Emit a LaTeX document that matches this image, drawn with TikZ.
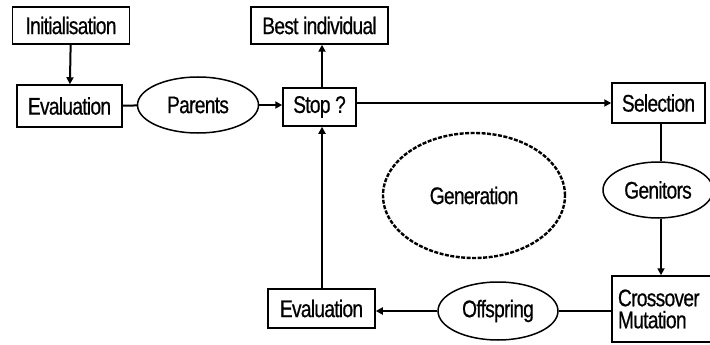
\documentclass[tikz,border=0pt]{standalone}
\usepackage{fontspec}
\setmainfont[LetterSpace=-3,FakeStretch=0.8,FakeBold=0.6]{Liberation Sans}
\usetikzlibrary{shapes.geometric,arrows.meta}
\begin{document}
\begin{tikzpicture}[x=1pt,y=-1pt,
  every node/.style={font=\fontsize{24}{22}\selectfont, inner sep=0pt, line width=1.5pt},
  boxn/.style={draw, rectangle},
  ell/.style={draw, ellipse},
  conn/.style={line width=2pt},
  arr/.style={conn, -{Triangle[length=7pt,width=7pt]}}]
\useasboundingbox (0,0) rectangle (710,345);
\node[boxn, minimum width=117pt, minimum height=37pt] (init) at (71,25.5) {Initialisation};
\node[boxn, minimum width=105pt, minimum height=42pt] (evalA) at (69.5,106) {Evaluation};
\node[ell, minimum width=121pt, minimum height=56pt] (parents) at (198,105) {Parents};
\node[boxn, minimum width=73pt, minimum height=38pt] (stop) at (319.5,107) {Stop ?};
\node[boxn, minimum width=137pt, minimum height=37pt] (best) at (319.5,25.5) {Best individual};
\node[boxn, minimum width=93pt, minimum height=40pt] (sel) at (658.5,103) {Selection};
\node[ell, minimum width=110pt, minimum height=56pt] (gen) at (658,190) {Genitors};
\node[boxn, minimum width=100pt, minimum height=66pt, align=left, text width=88pt, inner sep=0pt] (cross) at (662,309) {Crossover\\Mutation};
\node[boxn, minimum width=107pt, minimum height=39pt] (evalB) at (321.5,308.5) {Evaluation};
\node[ell, minimum width=120pt, minimum height=58pt] (off) at (498,311) {Offspring};
\node[draw, ellipse, dash pattern=on 4pt off 1.5pt, line width=2.4pt, minimum width=182pt, minimum height=125pt] (genr) at (474,195.5) {Generation};

\draw[arr] (init) -- (evalA);
\draw[conn] (evalA) -- (parents);
\draw[arr] (parents) -- (parents -| stop.west);
\draw[arr] (stop.north -| 322,0) -- (best.south -| 322,0);
\draw[arr] (stop.east |- 0,103) -- (sel.west |- 0,103);
\draw[conn] (sel.south -| 661,0) -- (gen.north -| 661,0);
\draw[arr] (gen.south -| 661,0) -- (cross.north -| 661,0);
\draw[conn] (cross.west |- off) -- (off.east);
\draw[arr] (off.west) -- (evalB.east |- off);
\draw[arr] (evalB.north -| 322,0) -- (stop.south -| 322,0);
\end{tikzpicture}
\end{document}
